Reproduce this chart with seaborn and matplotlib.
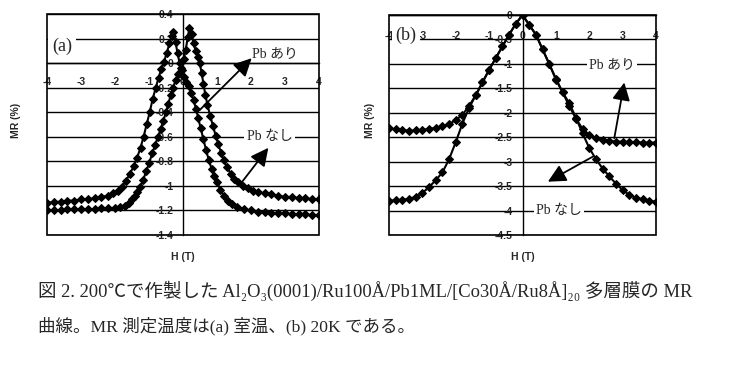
import matplotlib
matplotlib.use("Agg")
import matplotlib.pyplot as plt
import seaborn as sns
import pandas as pd
from matplotlib.patches import Rectangle
from matplotlib.ticker import FixedFormatter

# ---------------- data ----------------
# panel (a): room temperature, two sweep branches
a_branch1_H = [-4.0, -3.8, -3.6, -3.4, -3.2, -3.0, -2.8, -2.6, -2.4, -2.2, -2.05, -1.92,
               -1.8, -1.68, -1.56, -1.45, -1.35, -1.25, -1.16, -1.07, -0.98, -0.89, -0.8,
               -0.72, -0.64, -0.56, -0.48, -0.40, -0.33, -0.28, -0.22, -0.16, -0.10, -0.04,
               0.03, 0.10, 0.17, 0.24, 0.31, 0.38, 0.45, 0.52, 0.60, 0.68, 0.76, 0.84, 0.92,
               1.00, 1.10, 1.20, 1.32, 1.45, 1.6, 1.8, 2.0, 2.2, 2.4, 2.6, 2.8, 3.0, 3.2,
               3.4, 3.6, 3.8, 4.0]
a_branch1_MR = [-1.14, -1.13, -1.13, -1.12, -1.12, -1.11, -1.11, -1.10, -1.09, -1.08, -1.06,
                -1.04, -1.01, -0.96, -0.90, -0.84, -0.77, -0.69, -0.60, -0.50, -0.40, -0.29,
                -0.20, -0.12, -0.05, 0.01, 0.08, 0.16, 0.22, 0.25, 0.17, 0.08, 0.0, -0.06,
                -0.11, -0.15, -0.19, -0.24, -0.30, -0.37, -0.45, -0.53, -0.62, -0.71, -0.79,
                -0.86, -0.92, -0.97, -1.03, -1.08, -1.12, -1.15, -1.17, -1.19, -1.20, -1.21,
                -1.21, -1.22, -1.22, -1.22, -1.23, -1.23, -1.23, -1.24, -1.24]
a_branch2_H = [-4.0, -3.8, -3.6, -3.4, -3.2, -3.0, -2.8, -2.6, -2.4, -2.2, -2.0, -1.85,
               -1.72, -1.6, -1.5, -1.42, -1.34, -1.26, -1.17, -1.08, -0.99, -0.9, -0.82,
               -0.74, -0.66, -0.58, -0.5, -0.43, -0.36, -0.29, -0.22, -0.14, -0.06, 0.02,
               0.08, 0.14, 0.19, 0.25, 0.31, 0.37, 0.43, 0.49, 0.55, 0.6, 0.66, 0.72, 0.8,
               0.88, 0.96, 1.04, 1.12, 1.2, 1.3, 1.4, 1.5, 1.62, 1.75, 1.9, 2.05, 2.2, 2.4,
               2.6, 2.8, 3.0, 3.2, 3.4, 3.6, 3.8, 4.0]
a_branch2_MR = [-1.20, -1.20, -1.20, -1.19, -1.19, -1.19, -1.19, -1.19, -1.18, -1.18, -1.18,
                -1.17, -1.16, -1.14, -1.11, -1.08, -1.05, -1.01, -0.95, -0.88, -0.81, -0.73,
                -0.67, -0.60, -0.54, -0.47, -0.40, -0.33, -0.26, -0.20, -0.14, -0.09, -0.04,
                0.03, 0.11, 0.21, 0.29, 0.24, 0.16, 0.10, 0.05, 0.0, -0.08, -0.17, -0.26,
                -0.34, -0.43, -0.51, -0.59, -0.66, -0.73, -0.79, -0.85, -0.90, -0.94, -0.97,
                -1.00, -1.02, -1.04, -1.05, -1.06, -1.07, -1.08, -1.09, -1.09, -1.10, -1.10,
                -1.11, -1.11]

# panel (b): 20 K, with Pb and without Pb
b_with_H = [-4.0, -3.8, -3.6, -3.4, -3.2, -3.0, -2.8, -2.6, -2.4, -2.2, -2.0, -1.8, -1.6,
            -1.4, -1.2, -1.0, -0.8, -0.6, -0.4, -0.2, 0.0, 0.2, 0.4, 0.6, 0.8, 1.0, 1.2,
            1.4, 1.6, 1.8, 2.0, 2.2, 2.4, 2.6, 2.8, 3.0, 3.2, 3.4, 3.6, 3.8, 4.0]
b_with_MR = [-2.32, -2.34, -2.35, -2.37, -2.36, -2.35, -2.33, -2.31, -2.28, -2.23, -2.15,
             -2.04, -1.86, -1.64, -1.38, -1.12, -0.88, -0.64, -0.40, -0.18, 0.0, -0.20,
             -0.40, -0.70, -1.00, -1.30, -1.58, -1.86, -2.12, -2.33, -2.45, -2.52, -2.55,
             -2.57, -2.59, -2.59, -2.60, -2.60, -2.61, -2.61, -2.61]
b_without_H = [-4.0, -3.8, -3.6, -3.4, -3.2, -3.0, -2.8, -2.6, -2.4, -2.2, -2.0, -1.8,
               -1.6, -1.4, -1.2, -1.0, -0.8, -0.6, -0.4, -0.2, 0.0, 0.2, 0.4, 0.6, 0.8,
               1.0, 1.2, 1.4, 1.6, 1.8, 2.0, 2.2, 2.4, 2.6, 2.8, 3.0, 3.2, 3.4, 3.6, 3.8, 4.0]
b_without_MR = [-3.80, -3.79, -3.78, -3.76, -3.72, -3.64, -3.52, -3.38, -3.22, -2.95, -2.60,
                -2.22, -1.90, -1.64, -1.38, -1.12, -0.88, -0.64, -0.40, -0.18, 0.0, -0.20,
                -0.40, -0.70, -1.00, -1.32, -1.58, -1.80, -2.10, -2.42, -2.72, -2.95, -3.14,
                -3.30, -3.45, -3.58, -3.68, -3.74, -3.77, -3.80, -3.82]

a_yticks = [0.4, 0.2, 0.0, -0.2, -0.4, -0.6, -0.8, -1.0, -1.2, -1.4]
a_ylabels = ["0.4", "0.2", "0", "-0.2", "-0.4", "-0.6", "-0.8", "-1", "-1.2", "-1.4"]
b_yticks = [0.0, -0.5, -1.0, -1.5, -2.0, -2.5, -3.0, -3.5, -4.0, -4.5]
b_ylabels = ["0", "-0.5", "-1", "-1.5", "-2", "-2.5", "-3", "-3.5", "-4", "-4.5"]
x_ticks = [-4, -3, -2, -1, 0, 1, 2, 3, 4]
x_labels = ["-4", "-3", "-2", "-1", "0", "1", "2", "3", "4"]

caption1 = "図 2. 200℃で作製した Al₂O₃(0001)/Ru100Å/Pb1ML/[Co30Å/Ru8Å]₂₀ 多層膜の MR"
caption2 = "曲線。MR 測定温度は(a) 室温、(b) 20K である。"

# ---------------- style ----------------
sns.set_theme(style="white")
plt.rcParams["font.family"] = ["Liberation Sans", "Noto Sans CJK JP", "DejaVu Sans"]
plt.rcParams["axes.unicode_minus"] = False
SERIF_JP = ["Liberation Serif", "Noto Sans CJK JP", "DejaVu Sans"]

fig = plt.figure(figsize=(7.30, 3.76), dpi=100)
W, H = 730, 376


def add_axes_px(left, top, right, bottom):
    return fig.add_axes([left / W, 1 - bottom / H, (right - left) / W, (bottom - top) / H])


ax_a = add_axes_px(47, 14, 319, 235)
ax_b = add_axes_px(389, 15, 656, 235)


def draw_branch(ax, xs, ys, ms):
    df = pd.DataFrame({"H": xs, "MR": ys})
    sns.lineplot(data=df, x="H", y="MR", ax=ax, sort=False, estimator=None,
                 color="black", lw=1.5, marker="D", markersize=ms,
                 markeredgecolor="black", markerfacecolor="black", zorder=3)


draw_branch(ax_a, a_branch1_H, a_branch1_MR, 4)
draw_branch(ax_a, a_branch2_H, a_branch2_MR, 4)
draw_branch(ax_b, b_with_H, b_with_MR, 4.5)
draw_branch(ax_b, b_without_H, b_without_MR, 4.5)


def style_axes(ax, ylim, yticks, ylabels, xdir, xpad):
    ax.set_axisbelow(True)
    ax.set_xlim(-4, 4)
    ax.set_ylim(*ylim)
    ax.set_xticks(x_ticks)
    ax.xaxis.set_major_formatter(FixedFormatter(x_labels))
    ax.set_yticks(yticks)
    ax.yaxis.set_major_formatter(FixedFormatter(ylabels))
    for s in ("top", "right"):
        ax.spines[s].set_visible(False)
    ax.spines["left"].set_position(("data", 0))
    ax.spines["bottom"].set_position(("data", 0))
    for s in ("left", "bottom"):
        ax.spines[s].set_linewidth(1.0)
        ax.spines[s].set_color("black")
    ax.grid(axis="y", color="black", lw=1.0)
    ax.grid(axis="x", visible=False)
    ax.tick_params(axis="y", length=0, pad=7, labelsize=7.5)
    ax.tick_params(axis="x", length=3, width=1, direction=xdir, pad=xpad,
                   labelsize=7.5, color="black")
    for lab in ax.get_xticklabels() + ax.get_yticklabels():
        lab.set_fontweight("bold")
    ax.add_patch(Rectangle((0, 0), 1, 1, transform=ax.transAxes, fill=False,
                           lw=1.2, edgecolor="black", zorder=5, clip_on=False))
    ax.set_xlabel("")
    ax.set_ylabel("")


style_axes(ax_a, (-1.4, 0.4), a_yticks, a_ylabels, "in", 10)
style_axes(ax_b, (-4.5, 0.0), b_yticks, b_ylabels, "out", 8.5)

for ax in (ax_a, ax_b):
    ax.set_ylabel("MR (%)", fontsize=7.5, fontweight="bold")
    ax.set_xlabel("H (T)", fontsize=7.5, fontweight="bold")
    ax.xaxis.set_label_coords(0.5, -0.077)
ax_a.yaxis.set_label_coords(-0.095, 0.52)
ax_b.yaxis.set_label_coords(-0.052, 0.52)

white = dict(boxstyle="square,pad=0.15", fc="white", ec="none")
ax_a.text(-3.85, 0.14, "(a)", family=SERIF_JP, fontsize=13, va="center", ha="left",
          bbox=dict(boxstyle="square,pad=0.2", fc="white", ec="none"), zorder=4)
ax_b.text(-3.8, -0.42, "(b)", family=SERIF_JP, fontsize=13, va="center", ha="left",
          bbox=dict(boxstyle="square,pad=0.2", fc="white", ec="none"), zorder=4)

ax_a.text(2.02, 0.08, "Pb あり", family=SERIF_JP, fontsize=10, va="center", ha="left",
          bbox=white, zorder=4)
ax_a.text(1.87, -0.60, "Pb なし", family=SERIF_JP, fontsize=10, va="center", ha="left",
          bbox=white, zorder=4)
ax_b.text(2.0, -1.02, "Pb あり", family=SERIF_JP, fontsize=10, va="center", ha="left",
          bbox=white, zorder=4)
ax_b.text(0.41, -3.99, "Pb なし", family=SERIF_JP, fontsize=10, va="center", ha="left",
          bbox=white, zorder=4)

arrow = dict(arrowstyle="-|>,head_length=0.9,head_width=0.45", color="black", lw=1.3,
             shrinkA=0, shrinkB=0, mutation_scale=12)
ax_a.annotate("", xy=(2.02, 0.04), xytext=(0.5, -0.38), arrowprops=arrow, zorder=4)
ax_a.annotate("", xy=(2.51, -0.69), xytext=(1.73, -0.97), arrowprops=arrow, zorder=4)
ax_b.annotate("", xy=(3.05, -1.38), xytext=(2.75, -2.52), arrowprops=arrow, zorder=4)
ax_b.annotate("", xy=(0.76, -3.41), xytext=(2.1, -2.9), arrowprops=arrow, zorder=4)

fig.text(38 / W, 1 - 291 / H, caption1, family=SERIF_JP, fontsize=13.3, va="center",
         ha="left")
fig.text(38 / W, 1 - 326 / H, caption2, family=SERIF_JP, fontsize=12.6, va="center",
         ha="left")

fig.savefig("out.png", dpi=100)
